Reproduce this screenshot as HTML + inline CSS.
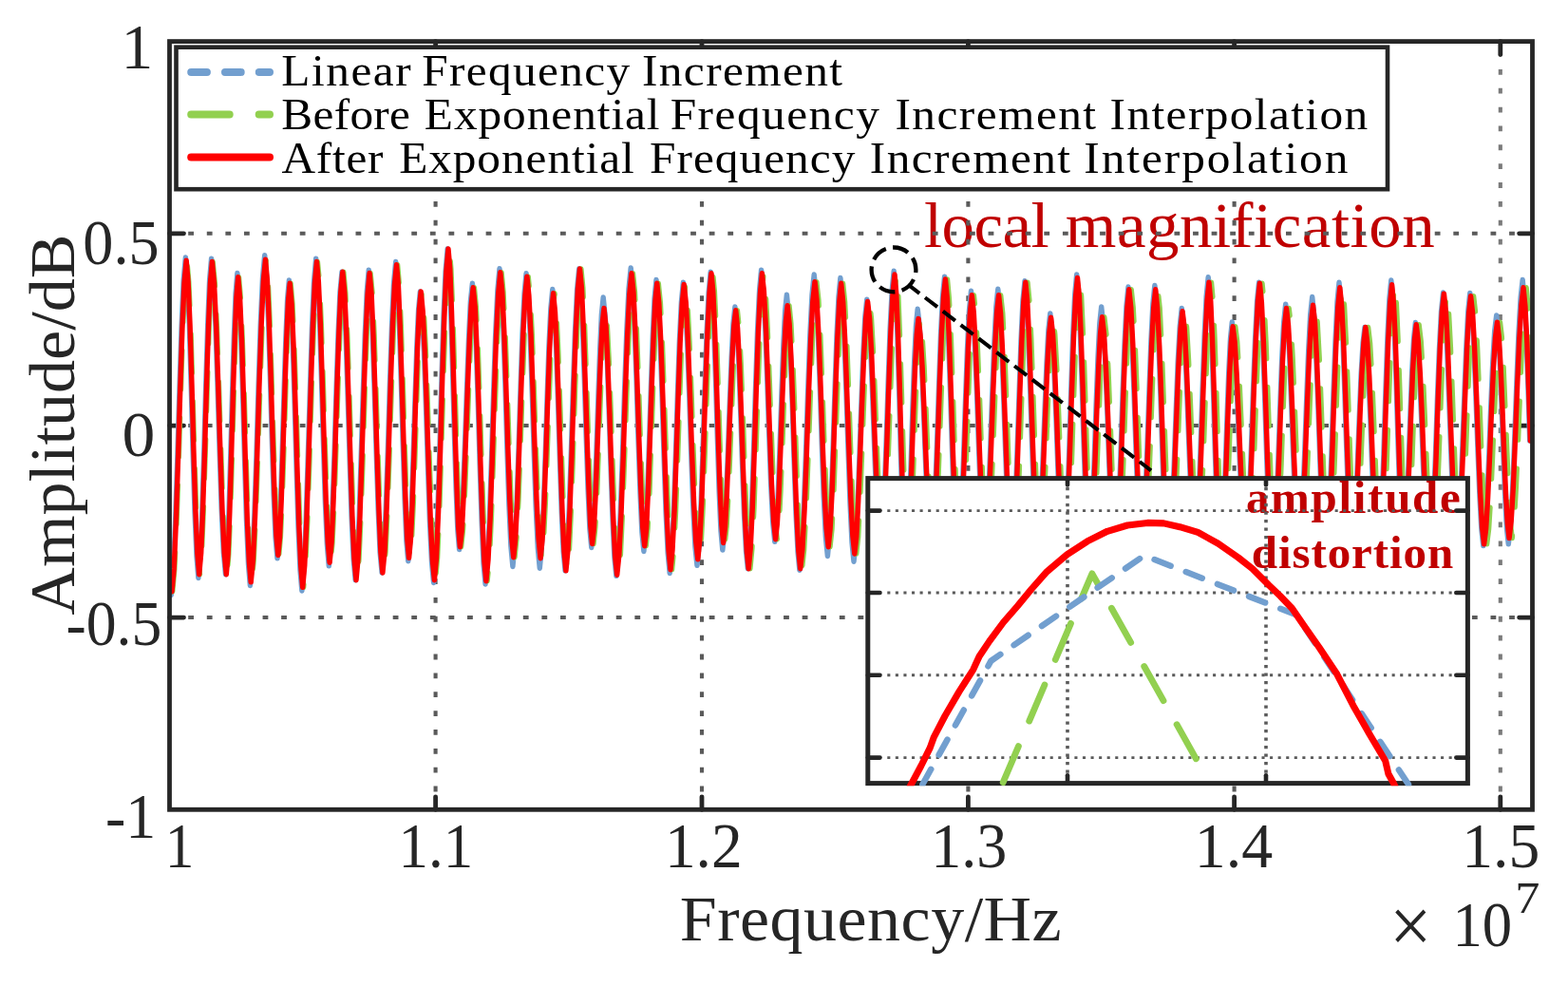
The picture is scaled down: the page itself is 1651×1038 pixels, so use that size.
<!DOCTYPE html>
<html lang="en"><head><meta charset="utf-8"><title>Amplitude vs Frequency</title>
<style>html,body{margin:0;padding:0;background:#fff}body{width:1651px;height:1038px;overflow:hidden}svg{display:block}text{font-family:"Liberation Serif",serif}</style>
</head><body>
<svg width="1651" height="1038" viewBox="0 0 1651 1038">
<rect width="1651" height="1038" fill="#fff"/>
<defs><clipPath id="cm"><rect x="178.5" y="43.6" width="1435.0" height="808.7"/></clipPath>
<clipPath id="ci"><rect x="913.8" y="503.8" width="631.6" height="323.4"/></clipPath></defs>
<text transform="translate(0,259.80) scale(1.0300,1)" font-size="67" fill="#c00000"><tspan x="944.63" letter-spacing="-0.592">local</tspan> <tspan x="1089.10" letter-spacing="0.461">magnification</tspan></text>
<g stroke="#5a5a5a" fill="none">
<line x1="458.6" y1="833.4" x2="458.6" y2="58" stroke-width="4.1" stroke-dasharray="5.8 14.06"/>
<line x1="739.0" y1="833.4" x2="739.0" y2="58" stroke-width="4.1" stroke-dasharray="5.8 14.06"/>
<line x1="1019.4" y1="833.4" x2="1019.4" y2="58" stroke-width="4.1" stroke-dasharray="5.8 14.06"/>
<line x1="1299.6" y1="833.4" x2="1299.6" y2="58" stroke-width="4.1" stroke-dasharray="5.8 14.06"/>
<line x1="1579.8" y1="833.4" x2="1579.8" y2="58" stroke-width="4.1" stroke-dasharray="5.8 14.06" stroke="#7a7a7a"/>
<line x1="198.2" y1="245.8" x2="1597" y2="245.8" stroke-width="4.0" stroke-dasharray="5.8 13.79"/>
<line x1="198.2" y1="448.1" x2="1597" y2="448.1" stroke-width="4.0" stroke-dasharray="5.8 13.79"/>
<line x1="198.2" y1="650.1" x2="1597" y2="650.1" stroke-width="4.0" stroke-dasharray="5.8 13.79"/>
</g>
<g stroke="#262626" stroke-width="4.8" fill="none" stroke-linecap="round">
<line x1="458.6" y1="852.3" x2="458.6" y2="838.8"/>
<line x1="458.6" y1="43.6" x2="458.6" y2="57.5"/>
<line x1="739.0" y1="852.3" x2="739.0" y2="838.8"/>
<line x1="739.0" y1="43.6" x2="739.0" y2="57.5"/>
<line x1="1019.4" y1="852.3" x2="1019.4" y2="838.8"/>
<line x1="1019.4" y1="43.6" x2="1019.4" y2="57.5"/>
<line x1="1299.6" y1="852.3" x2="1299.6" y2="838.8"/>
<line x1="1299.6" y1="43.6" x2="1299.6" y2="57.5"/>
<line x1="1579.8" y1="852.3" x2="1579.8" y2="838.8"/>
<line x1="1579.8" y1="43.6" x2="1579.8" y2="57.5"/>
<line x1="178.5" y1="245.8" x2="193.5" y2="245.8"/>
<line x1="1613.5" y1="245.8" x2="1599.6" y2="245.8"/>
<line x1="178.5" y1="448.1" x2="193.5" y2="448.1"/>
<line x1="1613.5" y1="448.1" x2="1599.6" y2="448.1"/>
<line x1="178.5" y1="650.1" x2="193.5" y2="650.1"/>
<line x1="1613.5" y1="650.1" x2="1599.6" y2="650.1"/>
</g>
<g clip-path="url(#cm)" fill="none" stroke-linejoin="round" stroke-linecap="round">
<path d="M180.2,626.6 L182.4,602.4 L184.5,552.7 L186.7,485.5 L188.9,412.1 L191.1,344.9 L193.2,295.2 L195.4,271.0 L197.3,294.0 L199.3,341.1 L201.2,404.9 L203.1,474.6 L205.0,538.4 L207.0,585.5 L208.9,608.5 L210.9,585.6 L212.8,538.6 L214.8,475.0 L216.7,405.6 L218.7,342.0 L220.6,295.0 L222.6,272.1 L224.7,294.8 L226.9,341.2 L229.0,404.1 L231.1,472.8 L233.2,535.7 L235.4,582.1 L237.5,604.8 L239.3,583.2 L241.0,538.9 L242.8,478.9 L244.6,413.3 L246.4,353.3 L248.1,309.0 L249.9,287.4 L251.8,309.8 L253.8,355.8 L255.7,418.0 L257.6,486.0 L259.5,548.2 L261.5,594.2 L263.4,616.6 L265.6,592.9 L267.8,544.3 L270.0,478.6 L272.1,406.8 L274.3,341.1 L276.5,292.5 L278.7,268.8 L280.6,290.6 L282.5,335.1 L284.4,395.4 L286.3,461.3 L288.2,521.6 L290.1,566.1 L292.0,587.9 L293.8,567.9 L295.5,527.1 L297.3,471.7 L299.1,411.2 L300.9,355.8 L302.6,315.0 L304.4,295.0 L306.3,317.3 L308.3,363.0 L310.2,424.8 L312.1,492.3 L314.0,554.1 L316.0,599.8 L317.9,622.1 L320.0,598.2 L322.1,549.4 L324.2,483.3 L326.4,410.9 L328.5,344.8 L330.6,296.0 L332.7,272.1 L334.6,294.2 L336.6,339.4 L338.5,400.6 L340.5,467.4 L342.4,528.6 L344.4,573.8 L346.3,595.9 L348.3,574.8 L350.2,531.6 L352.2,473.1 L354.1,409.1 L356.1,350.6 L358.0,307.4 L360.0,286.3 L362.0,308.4 L364.1,353.7 L366.1,415.0 L368.1,482.0 L370.1,543.3 L372.2,588.6 L374.2,610.7 L376.2,588.4 L378.2,542.8 L380.2,481.1 L382.3,413.7 L384.3,352.0 L386.3,306.4 L388.3,284.1 L390.3,305.9 L392.2,350.4 L394.2,410.6 L396.2,476.6 L398.2,536.8 L400.1,581.3 L402.1,603.1 L404.2,580.8 L406.3,535.0 L408.4,473.1 L410.4,405.4 L412.5,343.5 L414.6,297.7 L416.7,275.4 L418.6,296.9 L420.4,340.9 L422.3,400.5 L424.2,465.6 L426.1,525.2 L427.9,569.2 L429.8,590.7 L431.6,571.4 L433.4,531.8 L435.2,478.2 L437.0,419.5 L438.8,365.9 L440.6,326.3 L442.4,307.0 L444.4,327.9 L446.5,370.7 L448.5,428.6 L450.5,491.9 L452.5,549.8 L454.6,592.6 L456.6,613.5 L458.7,589.5 L460.8,540.5 L462.9,474.0 L464.9,401.4 L467.0,334.9 L469.1,285.9 L471.2,261.9 L473.0,283.5 L474.7,327.7 L476.5,387.5 L478.3,453.0 L480.1,512.8 L481.8,557.0 L483.6,578.6 L485.6,559.5 L487.5,520.4 L489.5,467.4 L491.5,409.5 L493.5,356.5 L495.4,317.4 L497.4,298.3 L499.4,319.9 L501.3,364.1 L503.3,424.0 L505.2,489.4 L507.2,549.3 L509.1,593.5 L511.1,615.1 L513.2,592.4 L515.4,546.1 L517.5,483.3 L519.6,414.6 L521.7,351.8 L523.9,305.5 L526.0,282.8 L528.0,304.2 L530.0,348.0 L532.0,407.2 L533.9,472.1 L535.9,531.3 L537.9,575.1 L539.9,596.5 L541.9,575.5 L544.0,532.4 L546.0,474.0 L548.0,410.3 L550.0,351.9 L552.1,308.8 L554.1,287.8 L556.1,309.0 L558.2,352.3 L560.2,411.0 L562.2,475.1 L564.2,533.8 L566.3,577.1 L568.3,598.3 L570.2,578.3 L572.2,537.2 L574.1,481.7 L576.0,421.0 L577.9,365.5 L579.9,324.4 L581.8,304.4 L583.7,324.6 L585.6,366.0 L587.5,422.0 L589.4,483.3 L591.3,539.3 L593.2,580.7 L595.1,600.9 L597.2,579.2 L599.3,534.9 L601.4,474.8 L603.4,409.1 L605.5,349.0 L607.6,304.7 L609.7,283.0 L611.6,303.0 L613.4,344.0 L615.3,399.4 L617.2,460.1 L619.1,515.5 L620.9,556.5 L622.8,576.5 L624.6,558.5 L626.3,521.7 L628.1,471.9 L629.9,417.5 L631.7,367.7 L633.4,330.9 L635.2,312.9 L637.2,332.9 L639.1,373.9 L641.1,429.3 L643.0,490.0 L645.0,545.4 L646.9,586.4 L648.9,606.4 L651.1,584.3 L653.3,539.0 L655.5,477.7 L657.6,410.6 L659.8,349.3 L662.0,304.0 L664.2,281.9 L666.2,302.3 L668.1,344.0 L670.1,400.4 L672.0,462.1 L674.0,518.5 L675.9,560.2 L677.9,580.6 L679.8,561.1 L681.6,521.1 L683.5,467.1 L685.4,407.9 L687.3,353.9 L689.1,313.9 L691.0,294.4 L693.0,315.5 L695.1,358.6 L697.1,417.0 L699.1,480.9 L701.1,539.3 L703.2,582.4 L705.2,603.5 L707.2,582.6 L709.3,539.9 L711.3,482.0 L713.3,418.7 L715.3,360.8 L717.4,318.1 L719.4,297.2 L721.5,317.5 L723.6,359.2 L725.7,415.5 L727.7,477.1 L729.8,533.4 L731.9,575.1 L734.0,595.4 L736.0,574.3 L738.1,531.2 L740.1,472.8 L742.1,408.9 L744.1,350.5 L746.2,307.4 L748.2,286.3 L750.0,306.3 L751.8,347.1 L753.6,402.5 L755.4,462.9 L757.2,518.3 L759.0,559.1 L760.8,579.1 L762.7,561.6 L764.5,525.9 L766.4,477.5 L768.3,424.6 L770.2,376.2 L772.0,340.5 L773.9,323.0 L775.8,341.8 L777.8,380.3 L779.7,432.4 L781.6,489.3 L783.5,541.4 L785.5,579.9 L787.4,598.7 L789.4,577.2 L791.5,533.3 L793.5,473.9 L795.5,408.9 L797.5,349.5 L799.6,305.6 L801.6,284.1 L803.6,303.6 L805.7,343.6 L807.7,397.7 L809.7,456.8 L811.7,510.9 L813.8,550.9 L815.8,570.4 L817.6,552.7 L819.4,516.4 L821.2,467.2 L823.0,413.5 L824.8,364.3 L826.6,328.0 L828.4,310.3 L830.3,330.1 L832.3,370.5 L834.2,425.3 L836.1,485.2 L838.0,540.0 L840.0,580.4 L841.9,600.2 L844.1,579.0 L846.3,535.5 L848.5,476.7 L850.6,412.5 L852.8,353.7 L855.0,310.2 L857.2,289.0 L859.2,309.2 L861.3,350.6 L863.3,406.7 L865.3,467.9 L867.3,524.0 L869.4,565.4 L871.4,585.6 L873.3,565.6 L875.3,524.7 L877.2,469.3 L879.1,408.7 L881.0,353.3 L883.0,312.4 L884.9,292.4 L886.9,312.8 L888.9,354.5 L890.9,411.0 L893.0,472.7 L895.0,529.2 L897.0,570.9 L899.0,591.3 L901.0,572.5 L902.9,533.9 L904.9,481.7 L906.9,424.7 L908.9,372.5 L910.8,333.9 L912.8,315.1 L914.8,333.5 L916.9,371.0 L918.9,421.9 L920.9,477.5 L922.9,528.4 L925.0,565.9 L927.0,584.3 L929.0,563.9 L931.1,522.2 L933.1,465.6 L935.1,403.9 L937.1,347.3 L939.2,305.6 L941.2,285.2 L943.0,306.5 L944.8,350.2 L946.6,409.4 L948.3,474.1 L950.1,533.3 L951.9,577.0 L953.7,598.3 L955.5,579.7 L957.3,541.6 L959.1,490.0 L960.8,433.5 L962.6,381.9 L964.4,343.8 L966.2,325.2 L968.2,342.9 L970.3,379.0 L972.3,428.0 L974.3,481.5 L976.3,530.5 L978.4,566.6 L980.4,584.3 L982.4,564.3 L984.5,523.4 L986.5,468.0 L988.5,407.4 L990.5,352.0 L992.6,311.1 L994.6,291.1 L996.6,312.0 L998.6,354.9 L1000.6,413.0 L1002.6,476.4 L1004.6,534.5 L1006.6,577.4 L1008.5,598.3 L1010.5,578.4 L1012.5,537.6 L1014.5,482.5 L1016.5,422.1 L1018.5,367.0 L1020.5,326.2 L1022.5,306.3 L1024.5,325.3 L1026.5,364.1 L1028.6,416.6 L1030.6,474.0 L1032.6,526.5 L1034.6,565.3 L1036.6,584.3 L1038.7,565.2 L1040.7,526.1 L1042.7,473.2 L1044.7,415.3 L1046.8,362.4 L1048.8,323.3 L1050.8,304.2 L1052.8,324.3 L1054.8,365.3 L1056.8,420.9 L1058.9,481.6 L1060.9,537.2 L1062.9,578.2 L1064.9,598.3 L1066.9,577.7 L1068.9,535.4 L1070.9,478.3 L1073.0,415.7 L1075.0,358.6 L1077.0,316.3 L1079.0,295.7 L1080.9,315.4 L1082.8,355.7 L1084.7,410.2 L1086.7,469.8 L1088.6,524.3 L1090.5,564.6 L1092.4,584.3 L1094.3,567.0 L1096.2,531.4 L1098.1,483.4 L1100.1,430.8 L1102.0,382.8 L1103.9,347.2 L1105.8,329.9 L1107.8,348.2 L1109.8,385.7 L1111.8,436.4 L1113.8,491.8 L1115.8,542.5 L1117.8,580.0 L1119.8,598.3 L1121.7,577.2 L1123.7,534.0 L1125.7,475.6 L1127.7,411.6 L1129.7,353.2 L1131.7,310.0 L1133.7,288.9 L1135.6,309.0 L1137.4,350.3 L1139.3,406.1 L1141.1,467.1 L1143.0,522.9 L1144.8,564.2 L1146.7,584.3 L1148.6,566.5 L1150.4,530.0 L1152.3,480.6 L1154.1,426.6 L1156.0,377.2 L1157.8,340.7 L1159.7,322.9 L1161.7,341.7 L1163.7,380.1 L1165.8,432.2 L1167.8,489.0 L1169.8,541.1 L1171.8,579.5 L1173.9,598.3 L1175.9,578.1 L1177.9,536.7 L1179.9,480.8 L1181.9,419.5 L1184.0,363.6 L1186.0,322.2 L1188.0,302.0 L1190.0,321.2 L1192.0,360.6 L1194.0,414.0 L1196.0,472.3 L1198.0,525.7 L1200.0,565.1 L1202.0,584.3 L1203.9,564.9 L1205.9,525.3 L1207.9,471.7 L1209.9,413.0 L1211.9,359.4 L1213.9,319.8 L1215.9,300.4 L1217.9,320.7 L1220.0,362.3 L1222.0,418.6 L1224.0,480.1 L1226.0,536.4 L1228.1,578.0 L1230.1,598.3 L1232.1,579.6 L1234.2,541.4 L1236.2,489.6 L1238.2,433.1 L1240.2,381.3 L1242.3,343.1 L1244.3,324.4 L1246.3,342.1 L1248.3,378.4 L1250.3,427.5 L1252.3,481.2 L1254.3,530.3 L1256.3,566.6 L1258.2,584.3 L1260.2,564.3 L1262.2,523.5 L1264.2,468.2 L1266.2,407.8 L1268.2,352.5 L1270.2,311.7 L1272.2,291.7 L1274.0,312.6 L1275.8,355.4 L1277.6,413.3 L1279.4,476.7 L1281.2,534.6 L1283.0,577.4 L1284.8,598.3 L1286.5,580.6 L1288.3,544.4 L1290.1,495.4 L1291.9,441.8 L1293.7,392.8 L1295.5,356.6 L1297.3,338.9 L1299.3,355.6 L1301.3,389.9 L1303.4,436.3 L1305.4,486.9 L1307.4,533.3 L1309.4,567.6 L1311.5,584.3 L1313.5,564.7 L1315.5,524.7 L1317.5,470.4 L1319.5,411.1 L1321.6,356.8 L1323.6,316.8 L1325.6,297.2 L1327.6,317.7 L1329.6,359.8 L1331.6,416.6 L1333.6,478.9 L1335.6,535.7 L1337.6,577.8 L1339.7,598.3 L1341.7,579.3 L1343.7,540.5 L1345.7,487.9 L1347.7,430.5 L1349.7,377.9 L1351.7,339.1 L1353.7,320.1 L1355.7,338.1 L1357.7,375.0 L1359.7,424.9 L1361.7,479.5 L1363.7,529.4 L1365.7,566.3 L1367.7,584.3 L1369.7,565.8 L1371.7,527.8 L1373.7,476.5 L1375.7,420.3 L1377.7,369.0 L1379.7,331.0 L1381.7,312.5 L1383.7,332.0 L1385.7,371.9 L1387.8,425.9 L1389.8,484.9 L1391.8,538.9 L1393.8,578.8 L1395.9,598.3 L1397.9,577.8 L1399.9,535.7 L1401.9,478.9 L1403.9,416.6 L1406.0,359.8 L1408.0,317.7 L1410.0,297.2 L1411.9,316.8 L1413.9,356.8 L1415.8,411.1 L1417.7,470.4 L1419.6,524.7 L1421.6,564.7 L1423.5,584.3 L1425.4,567.9 L1427.4,534.5 L1429.3,489.2 L1431.2,439.6 L1433.1,394.3 L1435.1,360.9 L1437.0,344.5 L1439.0,361.8 L1441.0,397.2 L1443.0,445.2 L1444.9,497.6 L1446.9,545.6 L1448.9,581.0 L1450.9,598.3 L1452.9,577.6 L1454.9,535.3 L1456.9,477.9 L1458.8,415.3 L1460.8,357.9 L1462.8,315.6 L1464.8,294.9 L1466.6,314.6 L1468.5,355.0 L1470.3,409.7 L1472.1,469.5 L1473.9,524.2 L1475.8,564.6 L1477.6,584.3 L1479.4,567.6 L1481.3,533.4 L1483.1,487.2 L1484.9,436.6 L1486.7,390.4 L1488.6,356.2 L1490.4,339.5 L1492.5,357.1 L1494.6,393.3 L1496.7,442.2 L1498.7,495.6 L1500.8,544.5 L1502.9,580.7 L1505.0,598.3 L1507.1,578.5 L1509.2,538.0 L1511.3,483.1 L1513.3,423.2 L1515.4,368.3 L1517.5,327.8 L1519.6,308.0 L1521.6,326.8 L1523.6,365.4 L1525.6,417.6 L1527.7,474.7 L1529.7,526.9 L1531.7,565.5 L1533.7,584.3 L1535.7,565.5 L1537.7,527.0 L1539.7,474.8 L1541.8,417.9 L1543.8,365.7 L1545.8,327.2 L1547.8,308.4 L1549.8,326.6 L1551.8,363.7 L1553.8,414.0 L1555.8,469.0 L1557.8,519.3 L1559.8,556.4 L1561.8,574.6 L1563.8,558.1 L1565.8,524.2 L1567.8,478.3 L1569.7,428.2 L1571.7,382.3 L1573.7,348.4 L1575.7,331.9 L1577.5,348.3 L1579.3,382.0 L1581.1,427.5 L1582.9,477.3 L1584.7,522.8 L1586.5,556.5 L1588.3,572.9 L1590.4,553.9 L1592.6,515.1 L1594.7,462.5 L1596.8,404.9 L1598.9,352.3 L1601.1,313.5 L1603.2,294.5 L1605.1,314.3 L1607.1,354.9 L1609.0,409.7 L1610.7,464.0" stroke="#729fcf" stroke-width="5.4"/>
<path d="M181.7,622.7 L183.8,598.9 L186.0,550.3 L188.2,484.5 L190.4,412.5 L192.5,346.7 L194.7,298.1 L196.9,274.3 L198.8,296.8 L200.8,343.0 L202.7,405.4 L204.6,473.7 L206.6,536.1 L208.5,582.3 L210.4,604.8 L212.4,582.3 L214.3,536.4 L216.3,474.1 L218.3,406.1 L220.2,343.8 L222.2,297.9 L224.1,275.4 L226.3,297.9 L228.4,343.8 L230.5,406.1 L232.7,474.1 L234.8,536.4 L236.9,582.3 L239.1,604.8 L240.8,583.5 L242.6,539.8 L244.4,480.6 L246.2,416.0 L247.9,356.8 L249.7,313.1 L251.5,291.8 L253.4,313.7 L255.3,358.5 L257.3,419.2 L259.2,485.5 L261.1,546.2 L263.1,591.0 L265.0,612.9 L267.2,589.7 L269.4,542.3 L271.6,478.1 L273.8,408.0 L276.0,343.8 L278.1,296.4 L280.3,273.2 L282.2,294.4 L284.1,337.9 L286.0,396.7 L287.9,461.1 L289.9,519.9 L291.8,563.4 L293.7,584.6 L295.4,565.1 L297.2,525.1 L299.0,471.0 L300.8,411.9 L302.5,357.8 L304.3,317.8 L306.1,298.3 L308.0,320.1 L309.9,364.8 L311.9,425.3 L313.8,491.4 L315.7,551.9 L317.7,596.6 L319.6,618.4 L321.7,595.0 L323.8,547.1 L326.0,482.3 L328.1,411.5 L330.2,346.7 L332.3,298.8 L334.4,275.4 L336.4,297.0 L338.3,341.2 L340.3,401.1 L342.2,466.5 L344.2,526.4 L346.1,570.6 L348.1,592.2 L350.0,571.3 L352.0,528.7 L353.9,470.8 L355.9,407.7 L357.9,349.8 L359.8,307.2 L361.8,286.3 L363.8,308.4 L365.8,353.7 L367.9,415.0 L369.9,482.0 L371.9,543.3 L374.0,588.6 L376.0,610.7 L378.0,588.7 L380.0,543.5 L382.1,482.4 L384.1,415.7 L386.1,354.6 L388.1,309.4 L390.1,287.4 L392.1,308.9 L394.1,353.0 L396.0,412.6 L398.0,477.9 L400.0,537.5 L402.0,581.6 L403.9,603.1 L406.0,581.0 L408.1,535.7 L410.2,474.4 L412.3,407.4 L414.4,346.1 L416.5,300.8 L418.6,278.7 L420.4,299.7 L422.3,342.8 L424.2,401.2 L426.1,464.9 L427.9,523.3 L429.8,566.4 L431.7,587.4 L433.5,568.3 L435.3,529.1 L437.1,476.2 L438.9,418.2 L440.7,365.3 L442.5,326.1 L444.3,307.0 L446.3,327.7 L448.4,370.1 L450.4,427.5 L452.4,490.2 L454.5,547.6 L456.5,590.0 L458.5,610.7 L460.6,586.9 L462.7,538.2 L464.8,472.3 L466.9,400.3 L469.0,334.4 L471.1,285.7 L473.2,261.9 L474.9,283.3 L476.7,327.1 L478.5,386.4 L480.3,451.3 L482.0,510.6 L483.8,554.4 L485.6,575.8 L487.6,557.2 L489.5,519.1 L491.5,467.5 L493.5,411.0 L495.5,359.4 L497.4,321.3 L499.4,302.7 L501.4,323.8 L503.3,366.9 L505.3,425.3 L507.2,489.2 L509.2,547.6 L511.2,590.7 L513.1,611.8 L515.3,589.6 L517.4,544.3 L519.5,482.8 L521.7,415.7 L523.8,354.2 L525.9,308.9 L528.1,286.7 L530.0,307.2 L532.0,349.0 L534.0,405.7 L536.0,467.7 L538.0,524.4 L540.0,566.2 L542.0,586.7 L544.0,566.5 L546.0,525.3 L548.1,469.4 L550.1,408.4 L552.1,352.5 L554.2,311.3 L556.2,291.1 L558.2,311.3 L560.3,352.7 L562.3,408.8 L564.3,470.1 L566.4,526.2 L568.4,567.6 L570.4,587.8 L572.4,568.8 L574.3,529.8 L576.2,477.1 L578.2,419.5 L580.1,366.8 L582.0,327.8 L584.0,308.8 L585.9,328.7 L587.8,369.5 L589.7,424.7 L591.6,485.0 L593.5,540.2 L595.4,581.0 L597.3,600.9 L599.4,579.2 L601.5,534.9 L603.5,474.8 L605.6,409.1 L607.7,349.0 L609.8,304.7 L611.9,283.0 L613.8,302.7 L615.6,343.2 L617.5,397.9 L619.4,457.7 L621.3,512.4 L623.1,552.9 L625.0,572.6 L626.8,555.7 L628.6,521.1 L630.3,474.2 L632.1,422.9 L633.9,376.0 L635.7,341.4 L637.4,324.5 L639.4,343.6 L641.4,382.8 L643.3,435.9 L645.3,493.9 L647.2,547.0 L649.2,586.2 L651.2,605.3 L653.4,583.7 L655.5,539.3 L657.7,479.3 L659.9,413.8 L662.1,353.8 L664.3,309.4 L666.5,287.8 L668.5,307.4 L670.4,347.4 L672.4,401.6 L674.3,460.9 L676.3,515.1 L678.3,555.1 L680.2,574.7 L682.1,555.9 L684.0,517.3 L685.8,465.1 L687.7,407.9 L689.6,355.7 L691.5,317.1 L693.3,298.3 L695.4,318.9 L697.4,360.9 L699.4,417.9 L701.5,480.2 L703.5,537.2 L705.5,579.2 L707.6,599.8 L709.6,579.3 L711.6,537.4 L713.7,480.6 L715.7,418.6 L717.7,361.8 L719.8,319.9 L721.8,299.4 L723.9,319.1 L726.0,359.5 L728.1,414.2 L730.1,474.1 L732.2,528.8 L734.3,569.2 L736.4,588.9 L738.4,568.4 L740.5,526.3 L742.5,469.5 L744.5,407.2 L746.6,350.4 L748.6,308.3 L750.6,287.8 L752.4,307.1 L754.2,346.7 L756.0,400.3 L757.8,459.0 L759.6,512.6 L761.5,552.2 L763.3,571.5 L765.1,554.8 L767.0,520.6 L768.9,474.4 L770.8,423.8 L772.6,377.6 L774.5,343.4 L776.4,326.7 L778.3,345.2 L780.2,383.2 L782.2,434.6 L784.1,490.8 L786.0,542.2 L788.0,580.2 L789.9,598.7 L791.9,577.5 L794.0,534.1 L796.0,475.4 L798.0,411.1 L800.1,352.4 L802.1,309.0 L804.1,287.8 L806.2,306.9 L808.2,346.0 L810.2,398.9 L812.3,456.7 L814.3,509.6 L816.3,548.7 L818.3,567.8 L820.2,551.0 L822.0,516.7 L823.8,470.1 L825.6,419.3 L827.4,372.7 L829.2,338.4 L831.0,321.6 L832.9,340.5 L834.8,379.2 L836.8,431.5 L838.7,488.8 L840.6,541.1 L842.6,579.8 L844.5,598.7 L846.7,578.1 L848.9,535.9 L851.1,478.9 L853.3,416.4 L855.4,359.4 L857.6,317.2 L859.8,296.6 L861.9,315.6 L863.9,354.6 L865.9,407.4 L867.9,465.0 L870.0,517.8 L872.0,556.8 L874.0,575.8 L876.0,556.9 L877.9,518.2 L879.8,465.7 L881.8,408.4 L883.7,355.9 L885.6,317.2 L887.6,298.3 L889.6,317.7 L891.6,357.4 L893.6,411.2 L895.6,470.1 L897.7,523.9 L899.7,563.6 L901.7,583.0 L903.7,564.9 L905.6,527.8 L907.6,477.7 L909.6,422.8 L911.6,372.7 L913.5,335.6 L915.5,317.5 L917.5,335.5 L919.6,372.3 L921.6,422.2 L923.6,476.6 L925.7,526.5 L927.7,563.3 L929.7,581.3 L931.8,561.4 L933.8,520.6 L935.8,465.3 L937.9,404.9 L939.9,349.6 L941.9,308.8 L944.0,288.9 L945.8,309.8 L947.5,352.6 L949.3,410.5 L951.1,473.7 L952.9,531.6 L954.7,574.4 L956.5,595.3 L958.3,577.6 L960.1,541.3 L961.8,492.2 L963.6,438.5 L965.4,389.4 L967.2,353.1 L969.0,335.4 L971.0,352.2 L973.1,386.5 L975.1,432.9 L977.1,483.8 L979.2,530.2 L981.2,564.5 L983.2,581.3 L985.3,561.7 L987.3,521.6 L989.3,467.3 L991.4,407.9 L993.4,353.6 L995.4,313.5 L997.5,293.9 L999.4,314.5 L1001.4,356.5 L1003.4,413.5 L1005.4,475.7 L1007.4,532.7 L1009.4,574.7 L1011.4,595.3 L1013.4,575.9 L1015.4,536.2 L1017.4,482.4 L1019.4,423.6 L1021.4,369.8 L1023.4,330.1 L1025.4,310.7 L1027.4,329.2 L1029.4,366.9 L1031.5,418.0 L1033.5,474.0 L1035.5,525.1 L1037.5,562.8 L1039.6,581.3 L1041.6,562.8 L1043.6,525.1 L1045.6,474.0 L1047.7,418.0 L1049.7,366.9 L1051.7,329.2 L1053.7,310.7 L1055.8,330.1 L1057.8,369.8 L1059.8,423.6 L1061.8,482.4 L1063.8,536.2 L1065.9,575.9 L1067.9,595.3 L1069.9,575.0 L1071.9,533.4 L1073.9,477.0 L1075.9,415.5 L1078.0,359.1 L1080.0,317.5 L1082.0,297.2 L1083.9,316.6 L1085.8,356.2 L1087.7,409.9 L1089.7,468.6 L1091.6,522.3 L1093.5,561.9 L1095.4,581.3 L1097.3,564.5 L1099.3,530.0 L1101.2,483.3 L1103.1,432.3 L1105.0,385.6 L1106.9,351.1 L1108.8,334.3 L1110.8,352.1 L1112.8,388.5 L1114.8,437.8 L1116.8,491.8 L1118.8,541.1 L1120.8,577.5 L1122.8,595.3 L1124.8,574.6 L1126.8,532.4 L1128.8,475.1 L1130.8,412.6 L1132.8,355.3 L1134.8,313.1 L1136.8,292.4 L1138.6,312.1 L1140.5,352.4 L1142.4,407.0 L1144.2,466.7 L1146.1,521.3 L1148.0,561.6 L1149.8,581.3 L1151.7,564.4 L1153.5,529.9 L1155.4,483.1 L1157.3,432.0 L1159.1,385.2 L1161.0,350.7 L1162.8,333.8 L1164.9,351.6 L1166.9,388.1 L1168.9,437.5 L1170.9,491.6 L1173.0,541.0 L1175.0,577.5 L1177.0,595.3 L1179.0,575.5 L1181.1,534.9 L1183.1,480.1 L1185.1,420.0 L1187.1,365.2 L1189.2,324.6 L1191.2,304.8 L1193.2,323.7 L1195.2,362.2 L1197.2,414.5 L1199.2,471.6 L1201.2,523.9 L1203.2,562.4 L1205.2,581.3 L1207.2,562.4 L1209.1,523.9 L1211.1,471.6 L1213.1,414.5 L1215.1,362.2 L1217.1,323.7 L1219.1,304.8 L1221.2,324.6 L1223.2,365.2 L1225.2,420.0 L1227.3,480.1 L1229.3,534.9 L1231.3,575.5 L1233.4,595.3 L1235.4,577.1 L1237.4,539.7 L1239.4,489.1 L1241.5,433.9 L1243.5,383.3 L1245.5,345.9 L1247.6,327.7 L1249.6,345.0 L1251.6,380.4 L1253.6,428.3 L1255.6,480.7 L1257.6,528.6 L1259.6,564.0 L1261.6,581.3 L1263.5,561.9 L1265.5,522.3 L1267.5,468.6 L1269.5,409.9 L1271.5,356.2 L1273.5,316.6 L1275.5,297.2 L1277.3,317.5 L1279.1,359.1 L1280.9,415.5 L1282.7,477.0 L1284.5,533.4 L1286.3,575.0 L1288.1,595.3 L1289.9,578.1 L1291.7,543.0 L1293.5,495.5 L1295.3,443.5 L1297.1,396.0 L1298.9,360.9 L1300.7,343.7 L1302.7,359.9 L1304.7,393.1 L1306.7,438.0 L1308.8,487.0 L1310.8,531.9 L1312.8,565.1 L1314.8,581.3 L1316.9,562.0 L1318.9,522.5 L1320.9,469.0 L1322.9,410.6 L1325.0,357.1 L1327.0,317.6 L1329.0,298.3 L1331.0,318.6 L1333.0,360.0 L1335.0,416.1 L1337.1,477.5 L1339.1,533.6 L1341.1,575.0 L1343.1,595.3 L1345.1,576.8 L1347.1,539.0 L1349.1,487.9 L1351.1,431.9 L1353.1,380.8 L1355.2,343.0 L1357.2,324.5 L1359.2,342.0 L1361.2,377.8 L1363.2,426.4 L1365.2,479.4 L1367.2,528.0 L1369.2,563.8 L1371.2,581.3 L1373.2,563.6 L1375.2,527.3 L1377.2,478.1 L1379.2,424.4 L1381.2,375.2 L1383.2,338.9 L1385.2,321.2 L1387.2,339.9 L1389.3,378.1 L1391.3,429.9 L1393.3,486.6 L1395.3,538.4 L1397.4,576.6 L1399.4,595.3 L1401.4,575.3 L1403.4,534.5 L1405.5,479.2 L1407.5,418.8 L1409.5,363.5 L1411.5,322.7 L1413.6,302.7 L1415.5,321.7 L1417.4,360.6 L1419.4,413.2 L1421.3,470.8 L1423.2,523.4 L1425.1,562.3 L1427.1,581.3 L1429.0,565.2 L1430.9,532.1 L1432.9,487.4 L1434.8,438.4 L1436.7,393.7 L1438.7,360.6 L1440.6,344.5 L1442.6,361.6 L1444.6,396.6 L1446.6,444.0 L1448.6,495.8 L1450.5,543.2 L1452.5,578.2 L1454.5,595.3 L1456.5,575.1 L1458.5,533.9 L1460.5,478.0 L1462.5,417.0 L1464.5,361.1 L1466.5,319.9 L1468.5,299.7 L1470.3,318.9 L1472.1,358.2 L1473.9,411.4 L1475.8,469.6 L1477.6,522.8 L1479.4,562.1 L1481.3,581.3 L1483.1,565.0 L1484.9,531.5 L1486.8,486.2 L1488.6,436.8 L1490.4,391.5 L1492.3,358.0 L1494.1,341.7 L1496.2,359.0 L1498.3,394.4 L1500.4,442.3 L1502.5,494.7 L1504.5,542.6 L1506.6,578.0 L1508.7,595.3 L1510.8,575.8 L1512.9,535.8 L1515.0,481.8 L1517.1,422.6 L1519.2,368.6 L1521.3,328.6 L1523.3,309.1 L1525.4,327.7 L1527.4,365.6 L1529.4,417.1 L1531.4,473.3 L1533.4,524.8 L1535.5,562.7 L1537.5,581.3 L1539.5,562.9 L1541.5,525.3 L1543.5,474.3 L1545.5,418.7 L1547.6,367.7 L1549.6,330.1 L1551.6,311.7 L1553.6,329.5 L1555.6,366.0 L1557.6,415.3 L1559.6,469.3 L1561.6,518.6 L1563.6,555.1 L1565.6,572.9 L1567.6,557.0 L1569.6,524.3 L1571.6,480.2 L1573.6,431.8 L1575.6,387.7 L1577.6,355.0 L1579.5,339.1 L1581.3,354.6 L1583.1,386.4 L1584.9,429.4 L1586.8,476.3 L1588.6,519.3 L1590.4,551.1 L1592.2,566.6 L1594.3,548.6 L1596.4,511.8 L1598.6,461.9 L1600.7,407.5 L1602.8,357.6 L1605.0,320.8 L1607.1,302.8 L1609.0,322.0 L1611.0,361.4 L1612.9,414.8 L1614.5,464.0" stroke="#92d050" stroke-width="5.4" stroke-dasharray="41 30"/>
<path d="M181.0,622.7 L183.2,598.9 L185.3,550.3 L187.5,484.5 L189.7,412.5 L191.9,346.7 L194.0,298.1 L196.2,274.3 L198.1,296.8 L200.1,343.0 L202.0,405.4 L203.9,473.7 L205.8,536.1 L207.8,582.3 L209.7,604.8 L211.7,582.3 L213.6,536.4 L215.6,474.1 L217.5,406.1 L219.5,343.8 L221.4,297.9 L223.4,275.4 L225.5,297.9 L227.7,343.8 L229.8,406.1 L231.9,474.1 L234.0,536.4 L236.2,582.3 L238.3,604.8 L240.1,583.5 L241.8,539.8 L243.6,480.6 L245.4,416.0 L247.2,356.8 L248.9,313.1 L250.7,291.8 L252.6,313.7 L254.6,358.5 L256.5,419.2 L258.4,485.5 L260.3,546.2 L262.3,591.0 L264.2,612.9 L266.4,589.7 L268.6,542.3 L270.8,478.1 L272.9,408.0 L275.1,343.8 L277.3,296.4 L279.5,273.2 L281.4,294.4 L283.3,337.9 L285.2,396.7 L287.1,461.1 L289.0,519.9 L290.9,563.4 L292.8,584.6 L294.6,565.1 L296.3,525.1 L298.1,471.0 L299.9,411.9 L301.7,357.8 L303.4,317.8 L305.2,298.3 L307.1,320.1 L309.1,364.8 L311.0,425.3 L312.9,491.4 L314.8,551.9 L316.8,596.6 L318.7,618.4 L320.8,595.0 L322.9,547.1 L325.0,482.3 L327.2,411.5 L329.3,346.7 L331.4,298.8 L333.5,275.4 L335.4,297.0 L337.4,341.2 L339.3,401.1 L341.3,466.5 L343.2,526.4 L345.2,570.6 L347.1,592.2 L349.1,571.3 L351.0,528.7 L353.0,470.8 L354.9,407.7 L356.9,349.8 L358.8,307.2 L360.8,286.3 L362.8,308.4 L364.9,353.7 L366.9,415.0 L368.9,482.0 L370.9,543.3 L373.0,588.6 L375.0,610.7 L377.0,588.7 L379.0,543.5 L381.0,482.4 L383.1,415.7 L385.1,354.6 L387.1,309.4 L389.1,287.4 L391.1,308.9 L393.0,353.0 L395.0,412.6 L397.0,477.9 L399.0,537.5 L400.9,581.6 L402.9,603.1 L405.0,581.0 L407.1,535.7 L409.2,474.4 L411.2,407.4 L413.3,346.1 L415.4,300.8 L417.5,278.7 L419.4,299.7 L421.2,342.8 L423.1,401.2 L425.0,464.9 L426.9,523.3 L428.7,566.4 L430.6,587.4 L432.4,568.3 L434.2,529.1 L436.0,476.2 L437.8,418.2 L439.6,365.3 L441.4,326.1 L443.2,307.0 L445.2,327.7 L447.3,370.1 L449.3,427.5 L451.3,490.2 L453.3,547.6 L455.4,590.0 L457.4,610.7 L459.5,586.9 L461.6,538.2 L463.7,472.3 L465.7,400.3 L467.8,334.4 L469.9,285.7 L472.0,261.9 L473.8,283.3 L475.5,327.1 L477.3,386.4 L479.1,451.3 L480.9,510.6 L482.6,554.4 L484.4,575.8 L486.4,557.2 L488.3,519.1 L490.3,467.5 L492.3,411.0 L494.3,359.4 L496.2,321.3 L498.2,302.7 L500.2,323.8 L502.1,366.9 L504.1,425.3 L506.0,489.2 L508.0,547.6 L509.9,590.7 L511.9,611.8 L514.0,589.6 L516.2,544.3 L518.3,482.8 L520.4,415.7 L522.5,354.2 L524.7,308.9 L526.8,286.7 L528.8,307.2 L530.8,349.0 L532.8,405.7 L534.7,467.7 L536.7,524.4 L538.7,566.2 L540.7,586.7 L542.7,566.5 L544.8,525.3 L546.8,469.4 L548.8,408.4 L550.8,352.5 L552.9,311.3 L554.9,291.1 L556.9,311.3 L559.0,352.7 L561.0,408.8 L563.0,470.1 L565.0,526.2 L567.1,567.6 L569.1,587.8 L571.0,568.8 L573.0,529.8 L574.9,477.1 L576.8,419.5 L578.7,366.8 L580.7,327.8 L582.6,308.8 L584.5,328.7 L586.4,369.5 L588.3,424.7 L590.2,485.0 L592.1,540.2 L594.0,581.0 L595.9,600.9 L598.0,579.2 L600.1,534.9 L602.2,474.8 L604.2,409.1 L606.3,349.0 L608.4,304.7 L610.5,283.0 L612.4,302.7 L614.2,343.2 L616.1,397.9 L618.0,457.7 L619.9,512.4 L621.7,552.9 L623.6,572.6 L625.4,555.7 L627.1,521.1 L628.9,474.2 L630.7,422.9 L632.5,376.0 L634.2,341.4 L636.0,324.5 L638.0,343.6 L639.9,382.8 L641.9,435.9 L643.8,493.9 L645.8,547.0 L647.7,586.2 L649.7,605.3 L651.9,583.7 L654.1,539.3 L656.3,479.3 L658.4,413.8 L660.6,353.8 L662.8,309.4 L665.0,287.8 L667.0,307.4 L668.9,347.4 L670.9,401.6 L672.8,460.9 L674.8,515.1 L676.7,555.1 L678.7,574.7 L680.6,555.9 L682.4,517.3 L684.3,465.1 L686.2,407.9 L688.1,355.7 L689.9,317.1 L691.8,298.3 L693.8,318.9 L695.9,360.9 L697.9,417.9 L699.9,480.2 L701.9,537.2 L704.0,579.2 L706.0,599.8 L708.0,579.3 L710.1,537.4 L712.1,480.6 L714.1,418.6 L716.1,361.8 L718.2,319.9 L720.2,299.4 L722.3,319.1 L724.4,359.5 L726.5,414.2 L728.5,474.1 L730.6,528.8 L732.7,569.2 L734.8,588.9 L736.8,568.4 L738.9,526.3 L740.9,469.5 L742.9,407.2 L744.9,350.4 L747.0,308.3 L749.0,287.8 L750.8,307.1 L752.6,346.7 L754.4,400.3 L756.2,459.0 L758.0,512.6 L759.8,552.2 L761.6,571.5 L763.5,554.8 L765.3,520.6 L767.2,474.4 L769.1,423.8 L771.0,377.6 L772.8,343.4 L774.7,326.7 L776.6,345.2 L778.6,383.2 L780.5,434.6 L782.4,490.8 L784.3,542.2 L786.3,580.2 L788.2,598.7 L790.2,577.5 L792.3,534.1 L794.3,475.4 L796.3,411.1 L798.3,352.4 L800.4,309.0 L802.4,287.8 L804.4,306.9 L806.5,346.0 L808.5,398.9 L810.5,456.7 L812.5,509.6 L814.6,548.7 L816.6,567.8 L818.4,551.0 L820.2,516.7 L822.0,470.1 L823.8,419.3 L825.6,372.7 L827.4,338.4 L829.2,321.6 L831.1,340.5 L833.1,379.2 L835.0,431.5 L836.9,488.8 L838.8,541.1 L840.8,579.8 L842.7,598.7 L844.9,578.1 L847.1,535.9 L849.3,478.9 L851.4,416.4 L853.6,359.4 L855.8,317.2 L858.0,296.6 L860.0,315.6 L862.1,354.6 L864.1,407.4 L866.1,465.0 L868.1,517.8 L870.2,556.8 L872.2,575.8 L874.1,556.9 L876.1,518.2 L878.0,465.7 L879.9,408.4 L881.8,355.9 L883.8,317.2 L885.7,298.3 L887.7,317.7 L889.7,357.4 L891.7,411.2 L893.8,470.1 L895.8,523.9 L897.8,563.6 L899.8,583.0 L901.8,564.9 L903.7,527.8 L905.7,477.7 L907.7,422.8 L909.7,372.7 L911.6,335.6 L913.6,317.5 L915.6,335.5 L917.7,372.3 L919.7,422.2 L921.7,476.6 L923.7,526.5 L925.8,563.3 L927.8,581.3 L929.8,561.4 L931.9,520.6 L933.9,465.3 L935.9,404.9 L937.9,349.6 L940.0,308.8 L942.0,288.9 L943.8,309.8 L945.6,352.6 L947.4,410.5 L949.1,473.7 L950.9,531.6 L952.7,574.4 L954.5,595.3 L956.3,577.6 L958.1,541.3 L959.9,492.2 L961.6,438.5 L963.4,389.4 L965.2,353.1 L967.0,335.4 L969.0,352.2 L971.1,386.5 L973.1,432.9 L975.1,483.8 L977.1,530.2 L979.2,564.5 L981.2,581.3 L983.2,561.7 L985.3,521.6 L987.3,467.3 L989.3,407.9 L991.3,353.6 L993.4,313.5 L995.4,293.9 L997.4,314.5 L999.4,356.5 L1001.4,413.5 L1003.4,475.7 L1005.4,532.7 L1007.4,574.7 L1009.3,595.3 L1011.3,575.9 L1013.3,536.2 L1015.3,482.4 L1017.3,423.6 L1019.3,369.8 L1021.3,330.1 L1023.3,310.7 L1025.3,329.2 L1027.3,366.9 L1029.4,418.0 L1031.4,474.0 L1033.4,525.1 L1035.4,562.8 L1037.4,581.3 L1039.5,562.8 L1041.5,525.1 L1043.5,474.0 L1045.5,418.0 L1047.6,366.9 L1049.6,329.2 L1051.6,310.7 L1053.6,330.1 L1055.6,369.8 L1057.6,423.6 L1059.7,482.4 L1061.7,536.2 L1063.7,575.9 L1065.7,595.3 L1067.7,575.0 L1069.7,533.4 L1071.7,477.0 L1073.8,415.5 L1075.8,359.1 L1077.8,317.5 L1079.8,297.2 L1081.7,316.6 L1083.6,356.2 L1085.5,409.9 L1087.5,468.6 L1089.4,522.3 L1091.3,561.9 L1093.2,581.3 L1095.1,564.5 L1097.0,530.0 L1098.9,483.3 L1100.9,432.3 L1102.8,385.6 L1104.7,351.1 L1106.6,334.3 L1108.6,352.1 L1110.6,388.5 L1112.6,437.8 L1114.6,491.8 L1116.6,541.1 L1118.6,577.5 L1120.5,595.3 L1122.5,574.6 L1124.5,532.4 L1126.5,475.1 L1128.5,412.6 L1130.5,355.3 L1132.5,313.1 L1134.5,292.4 L1136.4,312.1 L1138.2,352.4 L1140.1,407.0 L1141.9,466.7 L1143.8,521.3 L1145.6,561.6 L1147.5,581.3 L1149.4,564.4 L1151.2,529.9 L1153.1,483.1 L1154.9,432.0 L1156.8,385.2 L1158.6,350.7 L1160.5,333.8 L1162.5,351.6 L1164.5,388.1 L1166.6,437.5 L1168.6,491.6 L1170.6,541.0 L1172.6,577.5 L1174.7,595.3 L1176.7,575.5 L1178.7,534.9 L1180.7,480.1 L1182.7,420.0 L1184.8,365.2 L1186.8,324.6 L1188.8,304.8 L1190.8,323.7 L1192.8,362.2 L1194.8,414.5 L1196.8,471.6 L1198.8,523.9 L1200.8,562.4 L1202.8,581.3 L1204.7,562.4 L1206.7,523.9 L1208.7,471.6 L1210.7,414.5 L1212.7,362.2 L1214.7,323.7 L1216.7,304.8 L1218.7,324.6 L1220.8,365.2 L1222.8,420.0 L1224.8,480.1 L1226.8,534.9 L1228.9,575.5 L1230.9,595.3 L1232.9,577.1 L1235.0,539.7 L1237.0,489.1 L1239.0,433.9 L1241.0,383.3 L1243.1,345.9 L1245.1,327.7 L1247.1,345.0 L1249.1,380.4 L1251.1,428.3 L1253.1,480.7 L1255.1,528.6 L1257.1,564.0 L1259.0,581.3 L1261.0,561.9 L1263.0,522.3 L1265.0,468.6 L1267.0,409.9 L1269.0,356.2 L1271.0,316.6 L1273.0,297.2 L1274.8,317.5 L1276.6,359.1 L1278.4,415.5 L1280.2,477.0 L1282.0,533.4 L1283.8,575.0 L1285.5,595.3 L1287.3,578.1 L1289.1,543.0 L1290.9,495.5 L1292.7,443.5 L1294.5,396.0 L1296.3,360.9 L1298.1,343.7 L1300.1,359.9 L1302.1,393.1 L1304.2,438.0 L1306.2,487.0 L1308.2,531.9 L1310.2,565.1 L1312.2,581.3 L1314.3,562.0 L1316.3,522.5 L1318.3,469.0 L1320.3,410.6 L1322.4,357.1 L1324.4,317.6 L1326.4,298.3 L1328.4,318.6 L1330.4,360.0 L1332.4,416.1 L1334.4,477.5 L1336.4,533.6 L1338.4,575.0 L1340.5,595.3 L1342.5,576.8 L1344.5,539.0 L1346.5,487.9 L1348.5,431.9 L1350.5,380.8 L1352.5,343.0 L1354.5,324.5 L1356.5,342.0 L1358.5,377.8 L1360.5,426.4 L1362.5,479.4 L1364.5,528.0 L1366.5,563.8 L1368.5,581.3 L1370.5,563.6 L1372.5,527.3 L1374.5,478.1 L1376.5,424.4 L1378.5,375.2 L1380.5,338.9 L1382.5,321.2 L1384.5,339.9 L1386.5,378.1 L1388.6,429.9 L1390.6,486.6 L1392.6,538.4 L1394.6,576.6 L1396.7,595.3 L1398.7,575.3 L1400.7,534.5 L1402.7,479.2 L1404.7,418.8 L1406.8,363.5 L1408.8,322.7 L1410.8,302.7 L1412.7,321.7 L1414.7,360.6 L1416.6,413.2 L1418.5,470.8 L1420.4,523.4 L1422.4,562.3 L1424.3,581.3 L1426.2,565.2 L1428.2,532.1 L1430.1,487.4 L1432.0,438.4 L1433.9,393.7 L1435.9,360.6 L1437.8,344.5 L1439.8,361.6 L1441.8,396.6 L1443.8,444.0 L1445.7,495.8 L1447.7,543.2 L1449.7,578.2 L1451.7,595.3 L1453.7,575.1 L1455.7,533.9 L1457.7,478.0 L1459.6,417.0 L1461.6,361.1 L1463.6,319.9 L1465.6,299.7 L1467.4,318.9 L1469.3,358.2 L1471.1,411.4 L1472.9,469.6 L1474.7,522.8 L1476.6,562.1 L1478.4,581.3 L1480.2,565.0 L1482.1,531.5 L1483.9,486.2 L1485.7,436.8 L1487.5,391.5 L1489.4,358.0 L1491.2,341.7 L1493.3,359.0 L1495.4,394.4 L1497.5,442.3 L1499.5,494.7 L1501.6,542.6 L1503.7,578.0 L1505.8,595.3 L1507.9,575.8 L1510.0,535.8 L1512.1,481.8 L1514.1,422.6 L1516.2,368.6 L1518.3,328.6 L1520.4,309.1 L1522.4,327.7 L1524.4,365.6 L1526.4,417.1 L1528.5,473.3 L1530.5,524.8 L1532.5,562.7 L1534.5,581.3 L1536.5,562.9 L1538.5,525.3 L1540.5,474.3 L1542.6,418.7 L1544.6,367.7 L1546.6,330.1 L1548.6,311.7 L1550.6,329.5 L1552.6,366.0 L1554.6,415.3 L1556.6,469.3 L1558.6,518.6 L1560.6,555.1 L1562.6,572.9 L1564.6,557.0 L1566.6,524.3 L1568.6,480.2 L1570.5,431.8 L1572.5,387.7 L1574.5,355.0 L1576.5,339.1 L1578.3,354.6 L1580.1,386.4 L1581.9,429.4 L1583.7,476.3 L1585.5,519.3 L1587.3,551.1 L1589.1,566.6 L1591.2,548.6 L1593.4,511.8 L1595.5,461.9 L1597.6,407.5 L1599.7,357.6 L1601.9,320.8 L1604.0,302.8 L1605.9,322.0 L1607.9,361.4 L1609.8,414.8 L1611.4,464.0" stroke="#ff0000" stroke-width="5.4"/>
</g>
<rect x="178.5" y="43.6" width="1435.0" height="808.7" fill="none" stroke="#262626" stroke-width="4.8"/>
<rect x="185.5" y="49.7" width="1275.5" height="149.5" fill="#fff" stroke="#262626" stroke-width="4.6"/>
<g fill="none" stroke-width="8" stroke-linecap="round">
<path d="M201.2,76.1H284" stroke="#729fcf" stroke-dasharray="16.7 19.1"/>
<path d="M201.2,120.6H284" stroke="#92d050" stroke-dasharray="40.5 31"/>
<path d="M201.2,165.5H284" stroke="#ff0000"/>
</g>
<circle cx="941.0" cy="283.9" r="23.4" fill="none" stroke="#000" stroke-width="4.3" stroke-dasharray="17.15 7.35" stroke-dashoffset="13.9"/>
<line x1="958.5" y1="301.4" x2="1212" y2="495.3" stroke="#000" stroke-width="4" stroke-dasharray="16.4 7.3" stroke-dashoffset="4.2" stroke-linecap="butt"/>
<rect x="913.8" y="503.6" width="631.6" height="321.0" fill="#fff"/>
<text transform="translate(0,540.30) scale(1.0000,1)" font-size="49" font-weight="bold" fill="#c00000"><tspan x="1311.90" letter-spacing="1.688">amplitude</tspan></text>
<text transform="translate(0,597.50) scale(1.0000,1)" font-size="49" font-weight="bold" fill="#c00000"><tspan x="1317.80" letter-spacing="0.911">distortion</tspan></text>
<g stroke="#5a5a5a" fill="none" stroke-dasharray="3.2 5.3">
<line x1="1124.0" y1="513.0" x2="1124.0" y2="814.0" stroke-width="3.6"/>
<line x1="1333.0" y1="513.0" x2="1333.0" y2="814.0" stroke-width="3.6"/>
<line x1="930.0" y1="537.6" x2="1530.0" y2="537.6" stroke-width="2.9" stroke-dasharray="3.1 5.47" stroke-dashoffset="4.3"/>
<line x1="930.0" y1="624.0" x2="1530.0" y2="624.0" stroke-width="2.9" stroke-dasharray="3.1 5.47" stroke-dashoffset="4.3"/>
<line x1="930.0" y1="710.7" x2="1530.0" y2="710.7" stroke-width="2.9" stroke-dasharray="3.1 5.47" stroke-dashoffset="4.3"/>
<line x1="930.0" y1="797.6" x2="1530.0" y2="797.6" stroke-width="2.9" stroke-dasharray="3.1 5.47" stroke-dashoffset="4.3"/>
</g>
<g stroke="#262626" stroke-width="4.6" fill="none" stroke-linecap="round">
<line x1="1124.0" y1="824.6" x2="1124.0" y2="816.2"/>
<line x1="1124.0" y1="503.6" x2="1124.0" y2="510.4"/>
<line x1="1333.0" y1="824.6" x2="1333.0" y2="816.2"/>
<line x1="1333.0" y1="503.6" x2="1333.0" y2="510.4"/>
<line x1="913.8" y1="537.6" x2="926.5" y2="537.6"/>
<line x1="1545.4" y1="537.6" x2="1533.3" y2="537.6"/>
<line x1="913.8" y1="624.0" x2="926.5" y2="624.0"/>
<line x1="1545.4" y1="624.0" x2="1533.3" y2="624.0"/>
<line x1="913.8" y1="710.7" x2="926.5" y2="710.7"/>
<line x1="1545.4" y1="710.7" x2="1533.3" y2="710.7"/>
<line x1="913.8" y1="797.6" x2="926.5" y2="797.6"/>
<line x1="1545.4" y1="797.6" x2="1533.3" y2="797.6"/>
</g>
<rect x="913.8" y="503.6" width="631.6" height="321.0" fill="none" stroke="#262626" stroke-width="5"/>
<g clip-path="url(#ci)" fill="none" stroke-linejoin="round" stroke-linecap="round">
<path d="M1054.2,828.0 L1055.8,824.5 L1149.9,603.8 L1259.5,799.0" stroke="#92d050" stroke-width="6.8" stroke-dasharray="41.4 28.8" stroke-dashoffset="-4.8"/>
<path d="M970.2,828.0 L972.1,824.5 L1043.5,695.7 L1204.8,584.9 L1365.0,647.3 L1482.0,824.3 L1484.5,828.0" stroke="#729fcf" stroke-width="6.5" stroke-dasharray="18.3 17.3" stroke-dashoffset="-2.5"/>
<path d="M958.2,828.0 L960.1,824.5 L969.7,806.5 L979.2,787.4 L983.4,775.8 L995.1,753.5 L1009.9,728.1 L1024.8,704.8 L1031.1,691.0 L1041.7,675.1 L1056.6,655.0 L1071.4,638.0 L1086.2,620.0 L1102.4,601.7 L1123.6,583.7 L1144.8,569.9 L1166.0,559.3 L1187.1,553.0 L1208.3,550.4 L1225.3,550.9 L1242.2,554.7 L1261.3,560.4 L1282.5,572.1 L1303.7,586.9 L1318.5,598.5 L1335.5,615.5 L1347.8,627.2 L1360.5,640.5 L1373.2,658.9 L1388.8,681.2 L1407.8,709.8 L1424.8,742.7 L1441.8,772.4 L1458.7,801.0 L1461.9,814.8 L1467.2,824.3 L1469.0,828.0" stroke="#ff0000" stroke-width="7.1"/>
</g>
<text transform="translate(127.50,72.30) scale(1.0000,1)" font-size="67.5" fill="#262626">1</text>
<text transform="translate(87.35,278.00) scale(0.9506,1)" font-size="67.5" fill="#262626">0.5</text>
<text transform="translate(128.40,480.40) scale(1.0321,1)" font-size="67.5" fill="#262626">0</text>
<text transform="translate(69.47,679.30) scale(0.9436,1)" font-size="67.5" fill="#262626">-0.5</text>
<text transform="translate(111.06,882.40) scale(0.9469,1)" font-size="67.5" fill="#262626">-1</text>
<text transform="translate(173.85,913.20) scale(0.9083,1)" font-size="67.5" fill="#262626">1</text>
<text transform="translate(419.60,913.20) scale(0.9338,1)" font-size="67.5" fill="#262626">1.1</text>
<text transform="translate(699.88,913.20) scale(0.9693,1)" font-size="67.5" fill="#262626">1.2</text>
<text transform="translate(980.21,913.20) scale(0.9487,1)" font-size="67.5" fill="#262626">1.3</text>
<text transform="translate(1257.74,913.20) scale(0.9766,1)" font-size="67.5" fill="#262626">1.4</text>
<text transform="translate(1539.17,913.20) scale(0.9724,1)" font-size="67.5" fill="#262626">1.5</text>
<text transform="translate(0,989.90) scale(1.0300,1)" font-size="68" fill="#262626"><tspan x="694.99" letter-spacing="0.456">Frequency/Hz</tspan></text>
<text transform="translate(1462.93,1002.80) scale(0.9382,1)" font-size="84" fill="#262626">×</text>
<text transform="translate(1529.43,995.60) scale(0.9288,1)" font-size="67.5" fill="#262626">10</text>
<text transform="translate(1595.17,960.80) scale(1.1105,1)" font-size="47" fill="#262626">7</text>
<text transform="translate(0,90.10) scale(1.0500,1)" font-size="47" fill="#000"><tspan x="282.14" letter-spacing="1.476">Linear</tspan> <tspan x="423.19" letter-spacing="1.268">Frequency</tspan> <tspan x="643.81" letter-spacing="1.321">Increment</tspan></text>
<text transform="translate(0,135.80) scale(1.0500,1)" font-size="47" fill="#000"><tspan x="282.14" letter-spacing="0.295">Before</tspan> <tspan x="425.57" letter-spacing="0.890">Exponential</tspan> <tspan x="672.05" letter-spacing="1.423">Frequency</tspan> <tspan x="897.62" letter-spacing="1.381">Increment</tspan> <tspan x="1112.95" letter-spacing="1.333">Interpolation</tspan></text>
<text transform="translate(0,182.00) scale(1.0500,1)" font-size="47" fill="#000"><tspan x="282.38" letter-spacing="0.702">After</tspan> <tspan x="400.14" letter-spacing="0.881">Exponential</tspan> <tspan x="651.48" letter-spacing="0.958">Frequency</tspan> <tspan x="872.19" letter-spacing="1.345">Increment</tspan> <tspan x="1086.95" letter-spacing="1.849">Interpolation</tspan></text>
<text transform="translate(77.5,647.63) rotate(-90) scale(1.0309,1)" font-size="68" fill="#262626">Amplitude/dB</text>
</svg>
</body></html>
